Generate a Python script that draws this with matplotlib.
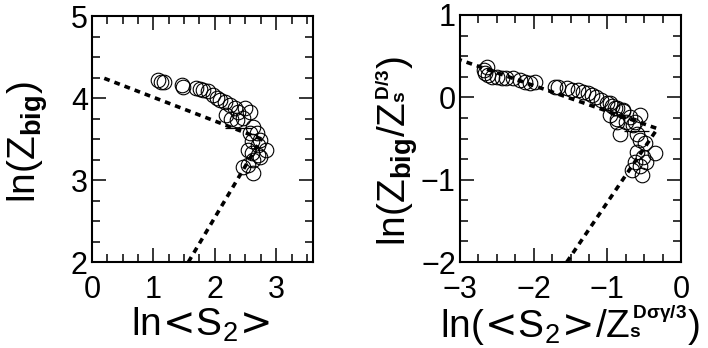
import numpy as np
import matplotlib
matplotlib.use("Agg")
import matplotlib.pyplot as plt
from matplotlib.ticker import MultipleLocator

plt.rcParams['font.family'] = ['Liberation Sans', 'DejaVu Sans']
plt.rcParams['mathtext.fontset'] = 'custom'
plt.rcParams['mathtext.rm'] = 'Liberation Sans'
plt.rcParams['mathtext.it'] = 'Liberation Sans'
plt.rcParams['mathtext.bf'] = 'Liberation Sans:bold'
plt.rcParams['mathtext.sf'] = 'DejaVu Sans'

# panel (a): ln Z_big against ln <S2>
lnS2 = [1.08, 1.13, 1.17, 1.46, 1.49, 1.70, 1.76, 1.81, 1.89, 1.97, 2.03, 2.08,
        2.17, 2.25, 2.33, 2.38, 2.49, 2.19, 2.27, 2.57, 2.36, 2.46, 2.62, 2.57,
        2.68, 2.74, 2.60, 2.71, 2.84, 2.54, 2.60, 2.74, 2.63, 2.54, 2.46, 2.63,
        2.71]
lnZbig = [4.22, 4.20, 4.19, 4.16, 4.14, 4.12, 4.11, 4.10, 4.08, 4.04, 4.00, 3.98,
          3.95, 3.91, 3.88, 3.83, 3.88, 3.79, 3.75, 3.83, 3.73, 3.76, 3.65, 3.57,
          3.57, 3.49, 3.47, 3.43, 3.37, 3.37, 3.33, 3.28, 3.24, 3.18, 3.16, 3.08,
          3.30]
errA_x, errA_y, errA_dx = [2.38], [3.63], [0.22]
fitA_hi_x, fitA_hi_y = [0.20, 2.76], [4.24, 3.50]
fitA_lo_x, fitA_lo_y = [1.57, 2.76], [2.00, 3.50]

# panel (b): scaled variables
lnS2_sc = [-2.63, -2.67, -2.66, -2.62, -2.57, -2.50, -2.43, -2.37, -2.28, -2.19,
           -2.12, -2.05, -1.98, -1.71, -1.67, -1.55, -1.48, -1.40, -1.33, -1.26,
           -1.21, -1.15, -1.08, -1.01, -0.94, -0.87, -0.79, -0.69, -0.62, -0.96,
           -0.87, -0.96, -0.90, -0.79, -0.87, -0.74, -0.56, -0.65, -0.83, -0.60,
           -0.56, -0.49, -0.60, -0.35, -0.51, -0.63, -0.47, -0.56, -0.67, -0.53]
lnZbig_sc = [0.37, 0.33, 0.29, 0.27, 0.25, 0.25, 0.23, 0.23, 0.23, 0.21,
             0.19, 0.17, 0.19, 0.13, 0.13, 0.11, 0.09, 0.09, 0.07, 0.05,
             0.03, 0.01, -0.03, -0.07, -0.11, -0.13, -0.17, -0.24, -0.30, -0.22,
             -0.26, -0.07, -0.13, -0.15, -0.30, -0.30, -0.22, -0.34, -0.44, -0.44,
             -0.52, -0.56, -0.66, -0.68, -0.72, -0.78, -0.78, -0.84, -0.88, -0.94]
errB_x, errB_y, errB_dx = [-0.60], [-0.41], [0.17]
fitB_hi_x, fitB_hi_y = [-3.05, -0.32], [0.47, -0.38]
fitB_lo_x, fitB_lo_y = [-1.55, -0.32], [-2.00, -0.38]

W, H = 708, 348
fig = plt.figure(figsize=(W / 100, H / 100), dpi=100)
axA = fig.add_axes([92 / W, 86 / H, 221 / W, 246 / H])
axB = fig.add_axes([460 / W, 86 / H, 221 / W, 247 / H])

dash = (0, (1.6, 1.4))

# wide angle brackets (relation spacing trimmed) and tiny bold scripts
LT, GT = r'\!\mathsf{<}\!', r'\!\mathsf{>}\!'
Zs_D3 = r'Z_{{}^{\mathbf{s}}}^{{}_{\mathbf{D/3}}}'
Zs_Dsg3 = r'Z_{{}^{\mathbf{s}}}^{{}_{\mathbf{D\sigma\gamma/3}}}'


def style_axes(ax):
    for sp in ax.spines.values():
        sp.set_linewidth(1.5)
    ax.tick_params(which='both', direction='in', top=True, right=True,
                   labelsize=22, width=1.1)
    ax.tick_params(which='major', length=10)
    ax.tick_params(which='minor', length=5.5)
    ax.tick_params(axis='x', pad=9)
    ax.tick_params(axis='y', pad=3)
    ax.xaxis.set_major_locator(MultipleLocator(1))
    ax.xaxis.set_minor_locator(MultipleLocator(0.25))
    ax.yaxis.set_major_locator(MultipleLocator(1))
    ax.yaxis.set_minor_locator(MultipleLocator(0.25))


def put_labels(ax, xlab, ylab, xpos, ypos):
    ax.set_xlabel(xlab, fontsize=28)
    ax.set_ylabel(ylab, fontsize=28)
    ax.xaxis.label.set_va('baseline')
    ax.xaxis.set_label_coords(*xpos)
    ax.yaxis.label.set_va('center')
    ax.yaxis.set_label_coords(*ypos)


for ax, xs, ys, ex, ey, edx, fits in [
        (axA, lnS2, lnZbig, errA_x, errA_y, errA_dx,
         [(fitA_hi_x, fitA_hi_y), (fitA_lo_x, fitA_lo_y)]),
        (axB, lnS2_sc, lnZbig_sc, errB_x, errB_y, errB_dx,
         [(fitB_hi_x, fitB_hi_y), (fitB_lo_x, fitB_lo_y)])]:
    for fx, fy in fits:
        ax.plot(fx, fy, color='black', lw=2.6, linestyle=dash,
                dash_capstyle='butt', zorder=3)
    ax.plot(xs, ys, 'o', mfc='none', mec='black', mew=0.8, ms=10.5, zorder=2)
    ax.errorbar(ex, ey, xerr=edx, fmt='none', ecolor='black', elinewidth=0.9,
                capsize=0, zorder=2)
    style_axes(ax)

axA.set_xlim(0, 3.6)
axA.set_ylim(2, 5)
put_labels(axA, r'ln$%s$S$_2$$%s$' % (LT, GT), r'ln(Z$_{\mathbf{big}}$)',
           (0.49, -0.3), (-0.29, 0.486))

axB.set_xlim(-3, 0)
axB.set_ylim(-2, 1)
put_labels(axB,
           r'ln($%s$S$_2$$%s$/$%s$)' % (LT, GT, Zs_Dsg3),
           r'ln(Z$_{\mathbf{big}}$/$%s$)' % Zs_D3,
           (0.5, -0.3), (-0.285, 0.45))

fig.savefig('out.png', dpi=100)
